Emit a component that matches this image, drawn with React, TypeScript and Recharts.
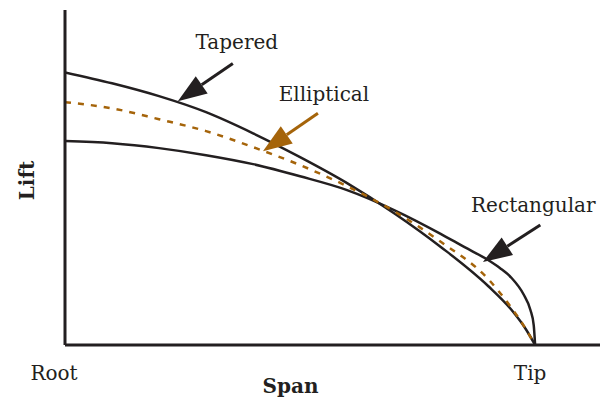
import React from "react";
import { LineChart, Line, XAxis, YAxis, ReferenceLine } from "recharts";

const INK = "#231f20";
const BROWN = "#a5640a";
const FONT = "'DejaVu Serif', serif";

// span: 0 = root, 1 = tip; lift (elliptical root = 1)
const spanTicks = [0, 1];
const spanTickLabels = ["Root", "Tip"];

const taperedSpan = [0, 0.1, 0.2, 0.3, 0.4, 0.5, 0.6, 0.7, 0.8, 0.9, 0.95, 0.98, 1];
const taperedLift = [1.123, 1.078, 1.025, 0.959, 0.872, 0.774, 0.667, 0.543, 0.403, 0.243, 0.144, 0.066, 0];

const ellipticalSpan = [0, 0.1, 0.2, 0.3, 0.4, 0.5, 0.6, 0.7, 0.8, 0.9, 0.95, 0.975, 0.99, 1];
const ellipticalLift = [1.0, 0.975, 0.93, 0.881, 0.815, 0.741, 0.654, 0.551, 0.424, 0.272, 0.152, 0.082, 0.033, 0];

const rectangularSpan = [0, 0.1, 0.2, 0.3, 0.4, 0.5, 0.6, 0.7, 0.8, 0.85, 0.9, 0.925, 0.95, 0.975, 0.99, 0.997, 1];
const rectangularLift = [0.84, 0.831, 0.811, 0.782, 0.745, 0.695, 0.638, 0.556, 0.457, 0.403, 0.35, 0.317, 0.276, 0.21, 0.144, 0.082, 0];

// callouts: label, arrow start (tail) and end (head) in span/lift units
const calloutNames = ["Tapered", "Elliptical", "Rectangular"];
const calloutTail = [
  { x: 0.357, y: 1.16 },
  { x: 0.538, y: 0.955 },
  { x: 1.011, y: 0.494 },
];
const calloutHead = [
  { x: 0.24, y: 1.004 },
  { x: 0.421, y: 0.798 },
  { x: 0.889, y: 0.342 },
];

const toPoints = (span: number[], lift: number[]) =>
  span.map((s, i) => ({ span: s, lift: lift[i] }));

const tapered = toPoints(taperedSpan, taperedLift);
const elliptical = toPoints(ellipticalSpan, ellipticalLift);
const rectangular = toPoints(rectangularSpan, rectangularLift);

const labelOffsets = [
  { dx: 4, dy: -14 },
  { dx: 6, dy: -12 },
  { dx: -7, dy: -13 },
];
const arrowColors = [INK, BROWN, INK];

const makeArrow = (idx: number) => (props: any) => {
  const { x1, y1, x2, y2 } = props;
  const color = arrowColors[idx];
  const ang = Math.atan2(y2 - y1, x2 - x1);
  const len = 29;
  const half = 10.5;
  const bx = x2 - len * Math.cos(ang);
  const by = y2 - len * Math.sin(ang);
  const px = half * Math.sin(ang);
  const py = -half * Math.cos(ang);
  const pts = `${x2},${y2} ${bx + px},${by + py} ${bx - px},${by - py}`;
  return (
    <g>
      <line x1={x1} y1={y1} x2={bx} y2={by} stroke={color} strokeWidth={3} />
      <polygon points={pts} fill={color} />
      <text
        x={x1 + labelOffsets[idx].dx}
        y={y1 + labelOffsets[idx].dy}
        textAnchor="middle"
        fontFamily={FONT}
        fontSize={20}
        fill={INK}
      >
        {calloutNames[idx]}
      </text>
    </g>
  );
};

const SpanTick = (props: any) => {
  const { x, y, payload } = props;
  const i = spanTicks.indexOf(payload.value);
  return (
    <text
      x={x + (i === 0 ? -11 : -5)}
      y={y + 33}
      textAnchor="middle"
      fontFamily={FONT}
      fontSize={20}
      fill={INK}
    >
      {spanTickLabels[i]}
    </text>
  );
};

export default function App() {
  return (
    <div style={{ position: "absolute", left: 0, top: 0, background: "#fff" }}>
      <LineChart
        width={600}
        height={401}
        margin={{ top: 10, right: 0, left: 0, bottom: 0 }}
        style={{ fontFamily: FONT }}
      >
        <XAxis
          dataKey="span"
          type="number"
          domain={[0, 1.138]}
          ticks={spanTicks}
          tick={<SpanTick />}
          tickLine={false}
          tickSize={0}
          height={56}
          axisLine={{ stroke: INK, strokeWidth: 3 }}
          allowDataOverflow
          label={{
            value: "Span",
            position: "insideBottom",
            offset: 8,
            dx: -42,
            style: { fontFamily: FONT, fontSize: 20, fontWeight: "bold", fill: INK },
          }}
        />
        <YAxis
          type="number"
          domain={[0, 1.38]}
          tick={false}
          tickLine={false}
          width={65}
          axisLine={{ stroke: INK, strokeWidth: 3 }}
          allowDataOverflow
          label={{
            content: (p: any) => {
              const vb = p.viewBox || { x: 0, y: 10, width: 65, height: 335 };
              const cx = vb.x + 27;
              const cy = vb.y + vb.height / 2 + 3;
              return (
                <text
                  x={cx}
                  y={cy}
                  transform={`rotate(-90 ${cx} ${cy})`}
                  textAnchor="middle"
                  dominantBaseline="central"
                  fontFamily={FONT}
                  fontSize={20}
                  fontWeight="bold"
                  fill={INK}
                >
                  Lift
                </text>
              );
            },
          }}
        />
        <Line
          data={tapered}
          dataKey="lift"
          type="monotone"
          stroke={INK}
          strokeWidth={2.5}
          dot={false}
          isAnimationActive={false}
        />
        <Line
          data={rectangular}
          dataKey="lift"
          type="monotone"
          stroke={INK}
          strokeWidth={2.5}
          dot={false}
          isAnimationActive={false}
        />
        <Line
          data={elliptical}
          dataKey="lift"
          type="monotone"
          stroke={BROWN}
          strokeWidth={2.5}
          strokeDasharray="6 7"
          dot={false}
          isAnimationActive={false}
        />
        {calloutNames.map((name, i) => (
          <ReferenceLine
            key={name}
            segment={[calloutTail[i], calloutHead[i]]}
            ifOverflow="visible"
            shape={makeArrow(i)}
          />
        ))}
      </LineChart>
    </div>
  );
}
